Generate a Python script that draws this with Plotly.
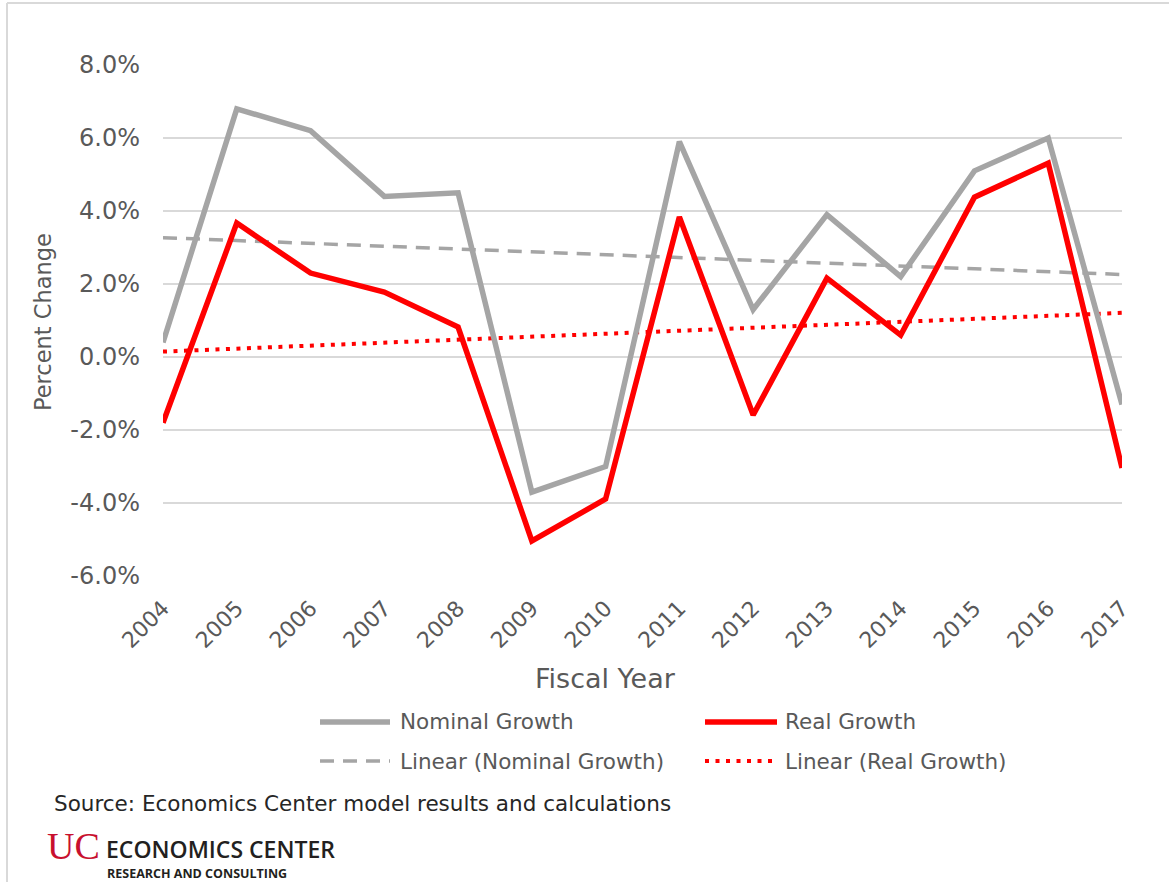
import numpy as np
import plotly.graph_objects as go

# ---------------- data ----------------
years = [2004, 2005, 2006, 2007, 2008, 2009, 2010, 2011, 2012, 2013, 2014, 2015, 2016, 2017]
nominal_growth = [0.4, 6.8, 6.2, 4.4, 4.5, -3.7, -3.0, 5.9, 1.3, 3.9, 2.2, 5.1, 6.0, -1.3]
real_growth = [-1.8, 3.67, 2.3, 1.78, 0.82, -5.04, -3.89, 3.84, -1.59, 2.16, 0.6, 4.38, 5.31, -3.04]
ytick_vals = [-6, -4, -2, 0, 2, 4, 6, 8]
ytick_text = ["-6.0%", "-4.0%", "-2.0%", "0.0%", "2.0%", "4.0%", "6.0%", "8.0%"]
xtick_text = [str(y) for y in years]
legend_labels = ["Nominal Growth", "Real Growth", "Linear (Nominal Growth)", "Linear (Real Growth)"]

# linear trend lines (least squares fit, as in the original "Linear" trendlines)
x_arr = np.array(years, dtype=float)
nom_fit = np.polyfit(x_arr, np.array(nominal_growth), 1)
real_fit = np.polyfit(x_arr, np.array(real_growth), 1)
nom_trend = list(np.polyval(nom_fit, x_arr))
real_trend = list(np.polyval(real_fit, x_arr))

# ---------------- layout helpers ----------------
W, H = 1169, 882
PL, PR, PT, PB = 163, 1122, 65, 576  # plot area in pixels


def xp(px):
    return (px - PL) / (PR - PL)


def yp(py):
    return (PB - py) / (PB - PT)


GRAY = "#A5A5A5"
RED = "#FF0000"
TXT = "#595959"
FONT = "DejaVu Sans"
NOM_DASH = "14px,9px"
REAL_DOT = "4px,6.5px"

fig = go.Figure()
fig.add_trace(go.Scatter(x=years, y=nom_trend, mode="lines", name=legend_labels[2],
                         line=dict(color=GRAY, width=3.5, dash=NOM_DASH)))
fig.add_trace(go.Scatter(x=years, y=real_trend, mode="lines", name=legend_labels[3],
                         line=dict(color=RED, width=4, dash=REAL_DOT)))
fig.add_trace(go.Scatter(x=years, y=nominal_growth, mode="lines", name=legend_labels[0],
                         line=dict(color=GRAY, width=5.5)))
fig.add_trace(go.Scatter(x=years, y=real_growth, mode="lines", name=legend_labels[1],
                         line=dict(color=RED, width=5.5)))

fig.update_layout(
    width=W, height=H,
    margin=dict(l=PL, r=W - PR, t=PT, b=H - PB, pad=0),
    paper_bgcolor="white", plot_bgcolor="white",
    showlegend=False,
    font=dict(family=FONT, color=TXT),
)
fig.update_xaxes(range=[years[0], years[-1]], tickvals=years, ticktext=xtick_text,
                 tickangle=-45, tickfont=dict(size=22, color=TXT, family=FONT),
                 showgrid=False, zeroline=False, showline=False, ticks="",
                 ticklabelstandoff=14)
fig.update_yaxes(range=[-6, 8], tickvals=ytick_vals, ticktext=ytick_text,
                 tickfont=dict(size=24, color=TXT, family=FONT),
                 showgrid=True, gridcolor="#D9D9D9", gridwidth=2,
                 zeroline=False, showline=False, ticks="", ticklabelstandoff=22)

shapes = []
# outer chart border (top and left visible)
shapes.append(dict(type="line", xref="paper", yref="paper", x0=xp(7), x1=xp(1169), y0=yp(3), y1=yp(3),
                   line=dict(color="#D9D9D9", width=2)))
shapes.append(dict(type="line", xref="paper", yref="paper", x0=xp(7), x1=xp(7), y0=yp(3), y1=yp(882),
                   line=dict(color="#D9D9D9", width=2)))

# legend samples
leg = [
    (320, 390, 722, GRAY, 5.5, "solid", 398, legend_labels[0]),
    (705, 777, 722, RED, 5.5, "solid", 783, legend_labels[1]),
    (320, 390, 761, GRAY, 3.5, NOM_DASH, 398, legend_labels[2]),
    (705, 777, 761, RED, 4, REAL_DOT, 783, legend_labels[3]),
]
annotations = []
for x0, x1, yy, col, w, dash, tx, label in leg:
    shapes.append(dict(type="line", xref="paper", yref="paper", x0=xp(x0), x1=xp(x1), y0=yp(yy), y1=yp(yy),
                       line=dict(color=col, width=w, dash=dash)))
    annotations.append(dict(xref="paper", yref="paper", x=xp(tx), y=yp(yy), text=label, showarrow=False,
                            xanchor="left", yanchor="middle", font=dict(size=21.5, color=TXT, family=FONT)))

# axis titles
annotations.append(dict(xref="paper", yref="paper", x=xp(43), y=yp(322), text="Percent Change",
                        textangle=-90, showarrow=False, xanchor="center", yanchor="middle",
                        font=dict(size=22.5, color=TXT, family=FONT)))
annotations.append(dict(xref="paper", yref="paper", x=xp(605), y=yp(678), text="Fiscal Year",
                        showarrow=False, xanchor="center", yanchor="middle",
                        font=dict(size=27, color=TXT, family=FONT)))
# source line
annotations.append(dict(xref="paper", yref="paper", x=xp(52), y=yp(803),
                        text="Source: Economics Center model results and calculations",
                        showarrow=False, xanchor="left", yanchor="middle",
                        font=dict(size=21.5, color="#262626", family=FONT)))
# logo
annotations.append(dict(xref="paper", yref="paper", x=xp(45), y=yp(846), text="UC",
                        showarrow=False, xanchor="left", yanchor="middle",
                        font=dict(size=38, color="#C8102E", family="Liberation Serif")))
annotations.append(dict(xref="paper", yref="paper", x=xp(104), y=yp(849), text="ECONOMICS CENTER",
                        showarrow=False, xanchor="left", yanchor="middle",
                        font=dict(size=23, color="#231F20", family="Open Sans", weight=600)))
annotations.append(dict(xref="paper", yref="paper", x=xp(105), y=yp(873.5), text="<b>RESEARCH AND CONSULTING</b>",
                        showarrow=False, xanchor="left", yanchor="middle",
                        font=dict(size=12.5, color="#231F20", family="Open Sans")))

fig.update_layout(shapes=shapes, annotations=annotations)
fig.write_html("out.html", config={"displayModeBar": False},
               post_script="document.body.style.margin='0';document.body.style.padding='0';")
